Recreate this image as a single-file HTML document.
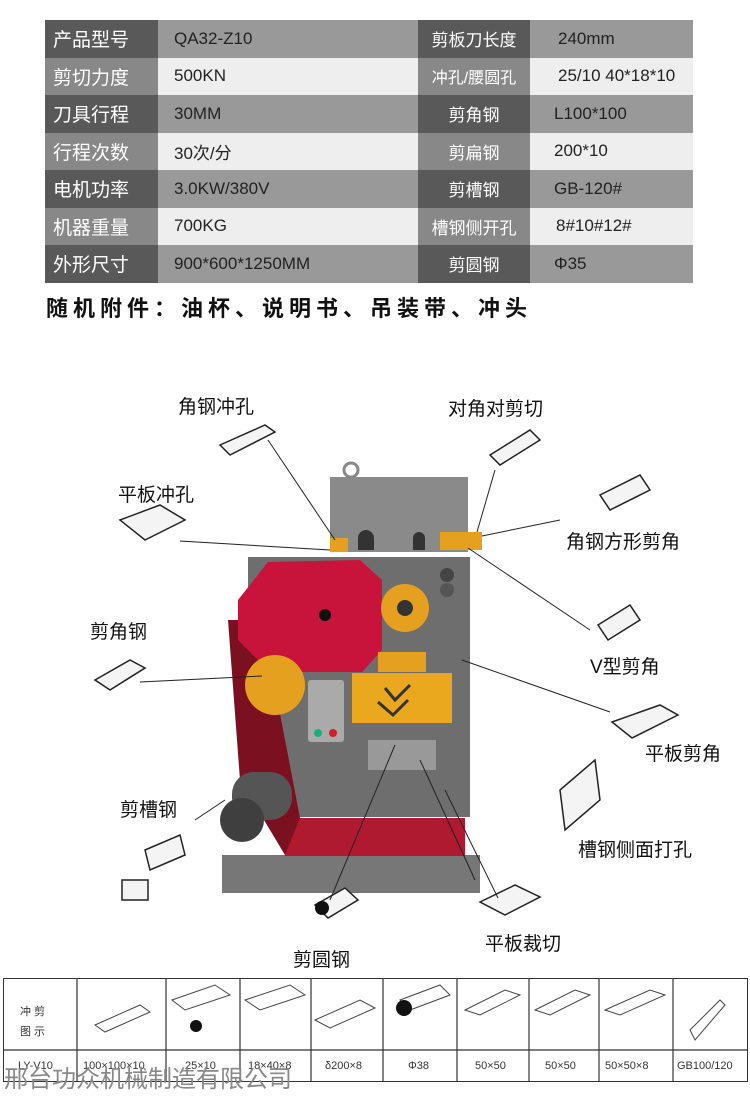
<!DOCTYPE html>
<html><head><meta charset="utf-8"><style>
html,body{margin:0;padding:0;background:#fff;}
body{width:750px;height:1118px;position:relative;overflow:hidden;font-family:"Liberation Sans","Noto Sans CJK SC",sans-serif;}
.t{position:absolute;left:45px;top:20px;width:648px;border-collapse:collapse;}
.t td{height:37.5px;padding:0;font-size:17px;color:#222;}
.t td.l{width:113px;color:#fff;font-size:19px;padding-left:8px;box-sizing:border-box;}
.t td.l2{width:112px;color:#fff;font-size:17px;text-align:center;}
.t td.v{width:260px;padding-left:16px;box-sizing:border-box;}
.t td.v2{padding-left:28px;}
.r1 td{background:#999;} .r1 td.l,.r1 td.l2{background:#595959;}
.r2 td{background:#eee;} .r2 td.l,.r2 td.l2{background:#888;}
.acc{position:absolute;left:46px;top:291px;font-size:22px;font-weight:bold;letter-spacing:5px;color:#111;}
.lb{position:absolute;font-size:19px;color:#111;white-space:nowrap;}
.bt{position:absolute;left:3px;top:978px;width:745px;height:104px;border:1.5px solid #333;box-sizing:border-box;}
.foot{position:absolute;left:4px;top:1059px;font-size:24px;color:#888;}
</style></head><body>
<table class="t">
<tr class="r1"><td class="l">产品型号</td><td class="v">QA32-Z10</td><td class="l2">剪板刀长度</td><td class="v2">240mm</td></tr>
<tr class="r2"><td class="l">剪切力度</td><td class="v">500KN</td><td class="l2" style="font-size:16px">冲孔/腰圆孔</td><td class="v2" style="padding-left:28px">25/10 40*18*10</td></tr>
<tr class="r1"><td class="l">刀具行程</td><td class="v">30MM</td><td class="l2">剪角钢</td><td class="v2" style="padding-left:24px">L100*100</td></tr>
<tr class="r2"><td class="l">行程次数</td><td class="v">30次/分</td><td class="l2">剪扁钢</td><td class="v2" style="padding-left:24px">200*10</td></tr>
<tr class="r1"><td class="l">电机功率</td><td class="v">3.0KW/380V</td><td class="l2">剪槽钢</td><td class="v2" style="padding-left:24px">GB-120#</td></tr>
<tr class="r2"><td class="l">机器重量</td><td class="v">700KG</td><td class="l2">槽钢侧开孔</td><td class="v2" style="padding-left:26px">8#10#12#</td></tr>
<tr class="r1"><td class="l">外形尺寸</td><td class="v">900*600*1250MM</td><td class="l2">剪圆钢</td><td class="v2" style="padding-left:24px">Φ35</td></tr>
</table>
<div class="acc">随机附件：油杯、说明书、吊装带、冲头</div>

<svg style="position:absolute;left:0;top:0" width="750" height="1118">
<rect x="222" y="855" width="258" height="38" fill="#777"/>
<rect x="285" y="818" width="180" height="38" fill="#b01a30"/>
<rect x="248" y="557" width="222" height="260" fill="#6e6e6e"/>
<rect x="330" y="477" width="138" height="75" fill="#8a8a8a"/>
<path d="M358 550 v-12 a8 8 0 0 1 16 0 v12 z M413 550 v-12 a6 6 0 0 1 12 0 v12 z" fill="#333"/>
<circle cx="351" cy="470" r="7" fill="none" stroke="#888" stroke-width="3"/>
<polygon points="228,620 262,620 300,818 285,855 240,780" fill="#7a1020"/>
<polygon points="238,600 268,562 360,560 382,580 382,650 362,672 270,672 238,640" fill="#c8143a"/>
<circle cx="325" cy="615" r="6" fill="#111"/>
<circle cx="405" cy="608" r="24" fill="#e6a020"/>
<circle cx="405" cy="608" r="8" fill="#333"/>
<circle cx="275" cy="685" r="30" fill="#e6a020"/>
<rect x="352" y="673" width="100" height="50" fill="#eaa81e"/>
<path d="M385 688 L395 700 L410 685 M378 702 L393 715 L408 700" stroke="#333" stroke-width="3" fill="none"/>
<rect x="378" y="652" width="48" height="20" fill="#e6a020"/>
<circle cx="447" cy="575" r="7" fill="#444"/><circle cx="447" cy="590" r="7" fill="#555"/>
<rect x="308" y="680" width="36" height="62" fill="#aaa" rx="3"/>
<circle cx="318" cy="733" r="4" fill="#2a7"/><circle cx="333" cy="733" r="4" fill="#c22"/>
<rect x="232" y="772" width="60" height="48" rx="22" fill="#555"/>
<circle cx="242" cy="820" r="22" fill="#3f3f3f"/>
<rect x="330" y="538" width="18" height="14" fill="#e6a020"/>
<rect x="440" y="532" width="42" height="18" fill="#e6a020"/>
<rect x="368" y="740" width="68" height="30" fill="#999"/>
<g fill="#f4f4f4" stroke="#222" stroke-width="1.5">
<polygon points="220,445 265,425 275,432 230,455"/>
<polygon points="120,520 160,505 185,520 145,540"/>
<polygon points="490,455 530,430 540,440 500,465"/>
<polygon points="600,495 640,475 650,490 610,510"/>
<polygon points="598,625 630,605 640,620 608,640"/>
<polygon points="612,722 660,705 678,715 632,738"/>
<polygon points="95,680 130,660 145,668 110,690"/>
<polygon points="560,790 595,760 600,800 565,830"/>
<polygon points="145,850 180,835 185,855 150,870"/>
<rect x="122" y="880" width="26" height="20"/>
<polygon points="480,902 515,885 540,897 505,915"/>
<polygon points="315,905 345,888 358,900 328,918"/>
</g>
<circle cx="322" cy="908" r="7" fill="#111"/>
<g stroke="#222" stroke-width="1">
<line x1="268" y1="440" x2="335" y2="540"/>
<line x1="180" y1="541" x2="330" y2="550"/>
<line x1="495" y1="470" x2="477" y2="532"/>
<line x1="560" y1="520" x2="482" y2="536"/>
<line x1="590" y1="630" x2="468" y2="548"/>
<line x1="610" y1="712" x2="462" y2="660"/>
<line x1="140" y1="682" x2="262" y2="676"/>
<line x1="195" y1="820" x2="225" y2="800"/>
<line x1="498" y1="898" x2="445" y2="790"/>
<line x1="475" y1="880" x2="420" y2="760"/>
<line x1="330" y1="900" x2="395" y2="745"/>
</g>
<g stroke="#333" stroke-width="1.2">
<line x1="3" y1="1050" x2="748" y2="1050"/>
<line x1="77" y1="978" x2="77" y2="1082"/><line x1="166" y1="978" x2="166" y2="1082"/>
<line x1="240" y1="978" x2="240" y2="1082"/><line x1="311" y1="978" x2="311" y2="1082"/>
<line x1="383" y1="978" x2="383" y2="1082"/><line x1="457" y1="978" x2="457" y2="1082"/>
<line x1="529" y1="978" x2="529" y2="1082"/><line x1="599" y1="978" x2="599" y2="1082"/>
<line x1="673" y1="978" x2="673" y2="1082"/>
</g>
<g fill="#fff" stroke="#444" stroke-width="1">
<polygon points="95,1025 140,1005 150,1012 105,1032"/>
<polygon points="172,1000 215,985 230,995 185,1010"/>
<polygon points="245,1000 290,985 305,995 260,1010"/>
<polygon points="315,1020 360,1000 375,1008 330,1028"/>
<polygon points="400,1000 440,985 450,995 410,1010"/>
<polygon points="465,1010 505,990 520,995 480,1015"/>
<polygon points="535,1010 575,990 590,995 550,1015"/>
<polygon points="605,1010 650,990 665,995 620,1015"/>
<polygon points="690,1030 720,1000 725,1005 695,1040"/>
</g>
<circle cx="404" cy="1008" r="8" fill="#111"/>
<circle cx="196" cy="1026" r="6" fill="#111"/>
</svg>
<div class="lb" style="left:178px;top:392px">角钢冲孔</div>
<div class="lb" style="left:448px;top:394px">对角对剪切</div>
<div class="lb" style="left:118px;top:480px">平板冲孔</div>
<div class="lb" style="left:566px;top:527px">角钢方形剪角</div>
<div class="lb" style="left:90px;top:617px">剪角钢</div>
<div class="lb" style="left:590px;top:652px">V型剪角</div>
<div class="lb" style="left:645px;top:739px">平板剪角</div>
<div class="lb" style="left:120px;top:795px">剪槽钢</div>
<div class="lb" style="left:578px;top:835px">槽钢侧面打孔</div>
<div class="lb" style="left:485px;top:929px">平板裁切</div>
<div class="lb" style="left:293px;top:945px">剪圆钢</div>
<div class="bt"></div>
<div style="position:absolute;left:20px;top:1002px;font-size:11px;color:#333;line-height:20px">冲 剪<br>图 示</div>
<div style="position:absolute;left:0;top:1060px;width:750px;font-size:11px;color:#333">
<span style="position:absolute;left:18px">LY-V10</span><span style="position:absolute;left:83px">100×100×10</span><span style="position:absolute;left:185px">25×10</span><span style="position:absolute;left:248px">18×40×8</span><span style="position:absolute;left:325px">δ200×8</span><span style="position:absolute;left:408px">Φ38</span><span style="position:absolute;left:475px">50×50</span><span style="position:absolute;left:545px">50×50</span><span style="position:absolute;left:605px">50×50×8</span><span style="position:absolute;left:677px">GB100/120</span></div>
<div class="foot">邢台功众机械制造有限公司</div>
</body></html>
